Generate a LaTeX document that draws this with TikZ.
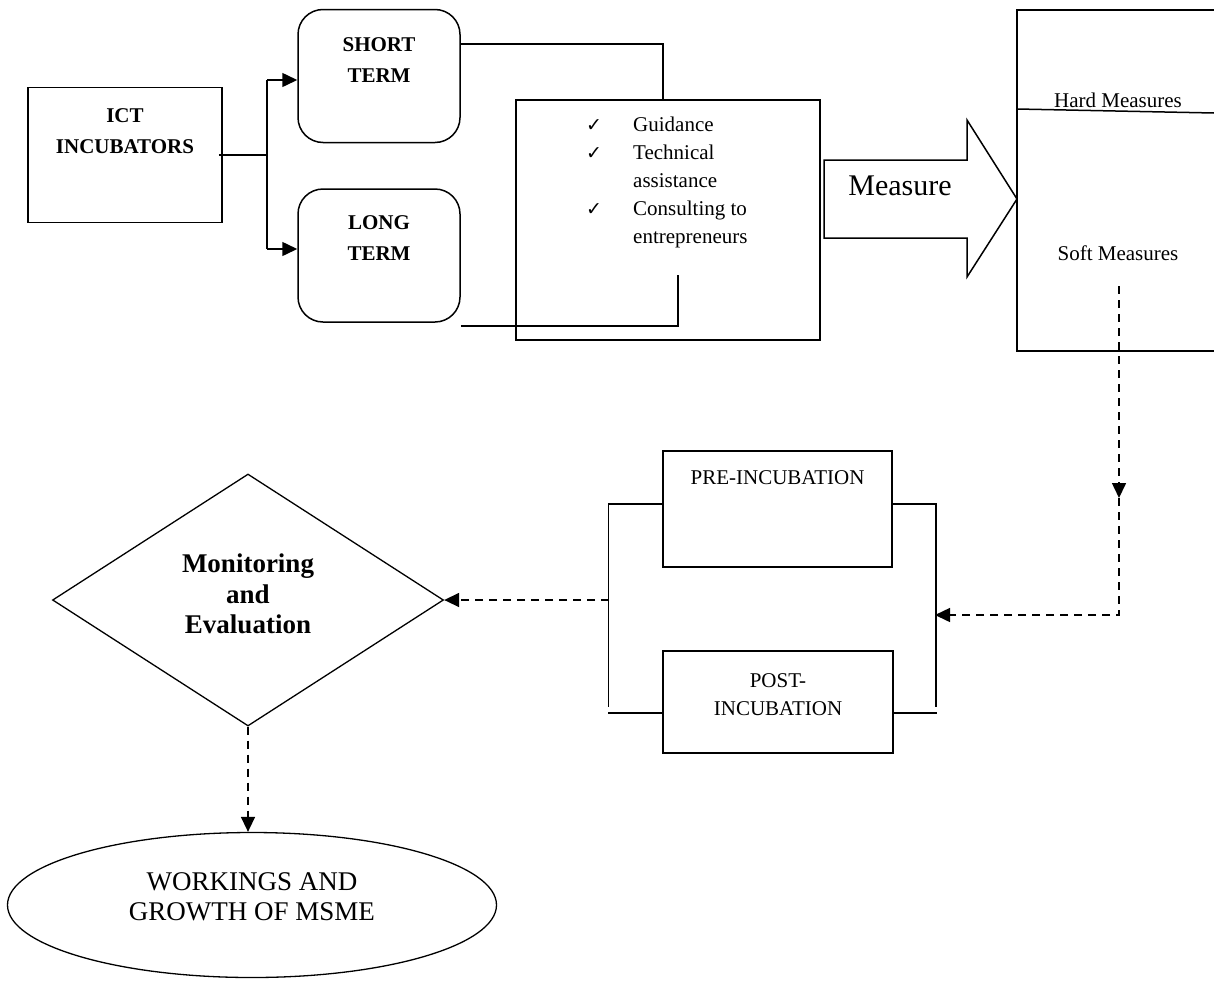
\documentclass[tikz,border=0pt]{standalone}
\usepackage{fontspec}
\setmainfont{Liberation Serif}
\newfontfamily\tickfont{DejaVu Sans}
\usetikzlibrary{arrows.meta,positioning,shapes.geometric,calc}

\newcommand{\tickmark}{{\tickfont\fontsize{19}{19}\selectfont ✓}}

\begin{document}
\begin{tikzpicture}[
    x=1pt, y=-1pt,
    box/.style={draw, line width=1.5pt, inner sep=0pt},
    termbox/.style={box, rounded corners=25pt, minimum width=162pt, minimum height=133pt},
    title/.style={font=\fontsize{21}{31}\selectfont\bfseries, align=center},
    body/.style={font=\fontsize{21}{28}\selectfont, align=center},
    link/.style={line width=1.5pt},
    tip/.style={-{Triangle[length=15pt,width=14pt]}},
    dashlink/.style={link, dash pattern=on 8pt off 6pt}
]
\useasboundingbox (0,0) rectangle (1214,980);

% Incubators and the two terms
\node[box, minimum width=194pt, minimum height=135pt] (ict) at (125,155) {};
\node[title] (ictlbl) at (125,131) {ICT\\INCUBATORS};
\node[termbox] (short) at (379,76) {};
\node[title] (shortlbl) at (379,60) {SHORT\\TERM};
\node[termbox] (long) at (379,255.5) {};
\node[title] (longlbl) at (379,238) {LONG\\TERM};

\coordinate (split) at (267,155);
\draw[link] ([xshift=-4pt]ict.east) -- (split);
\draw[link] (split |- 0,80) -- (split |- 0,249);
\draw[link, tip] (split |- 0,80) -- (short.west |- 0,80);
\draw[link, tip] (split |- 0,249) -- (long.west |- 0,249);

% Support box
\node[box, minimum width=304pt, minimum height=240pt] (help) at (668,220) {};
\node[anchor=north west, inner sep=0pt, font=\fontsize{21}{28}\selectfont] (helplist) at (586,112) {%
  \begin{tabular}{@{}p{47pt}@{}l@{}}
  \tickmark & Guidance\\
  \tickmark & Technical\\
            & assistance\\
  \tickmark & Consulting to\\
            & entrepreneurs
  \end{tabular}};
\draw[link] ([yshift=32pt]short.east) -| ([xshift=-5pt]help.north);
\draw[link] ([yshift=-3pt]long.south east) -- ++(217,0) -- ++(0,-51);

% Measure arrow
\draw[link] (824,160) -- (967,160) -- (967,120) -- (1017,199) -- (967,277) -- (967,238) -- (824,238) -- cycle;
\node[font=\fontsize{30}{36}\selectfont] (measurelbl) at (900,186) {Measure};

% Measures
\node[box, minimum width=213pt, minimum height=341pt] (measures) at (1123.5,180.5) {};
\draw[link] (1017,109) -- (1214,113);
\node[body] (hard) at (1118,100) {Hard Measures};
\node[body] (soft) at (1118,253) {Soft Measures};
\coordinate (softend) at (1119,286);
\coordinate (softmid) at (1119,498);

% Incubation stages
\node[box, minimum width=229pt, minimum height=116pt] (pre) at (777.5,509) {};
\node[body] (prelbl) at (777.5,478) {PRE-INCUBATION};
\node[box, minimum width=230pt, minimum height=102pt] (post) at (778,702) {};
\node[body] (postlbl) at (778,695) {POST-\\INCUBATION};

\draw[link] ([yshift=5pt]pre.west) -- ++(-54,0) -- ++(0,203);
\draw[link] ([yshift=5pt]pre.east) -- ++(43,0) -- ++(0,203);
\draw[link] ([yshift=-11pt]post.west) -- ++(-54,0);
\draw[link] ([yshift=-11pt]post.east) -- ++(43,0);
\coordinate (lbrack) at (609,600);
\coordinate (rbrack) at (935,615);

\draw[dashlink, tip] (softend) -- (softmid);
\draw[dashlink, tip] (softmid) -- (softmid |- rbrack) -- (rbrack);

% Monitoring and outcome
\node[draw, line width=1.3pt, diamond, minimum width=391pt, minimum height=252pt, inner sep=0pt] (monitor) at (248,600) {};
\node[font=\fontsize{27}{30.5}\selectfont\bfseries, align=center] (monitorlbl) at (248,594) {Monitoring\\and\\Evaluation};
\node[draw, line width=1.3pt, ellipse, minimum width=489pt, minimum height=145pt, inner sep=0pt] (msme) at (252,905) {};
\node[font=\fontsize{27}{30}\selectfont, align=center] (msmelbl) at (252,897) {WORKINGS AND\\GROWTH OF MSME};

\draw[dashlink, tip] (lbrack) -- (monitor.east);
\draw[dashlink, tip] (monitor.south) -- (monitor.south |- msme.north);

\end{tikzpicture}
\end{document}
